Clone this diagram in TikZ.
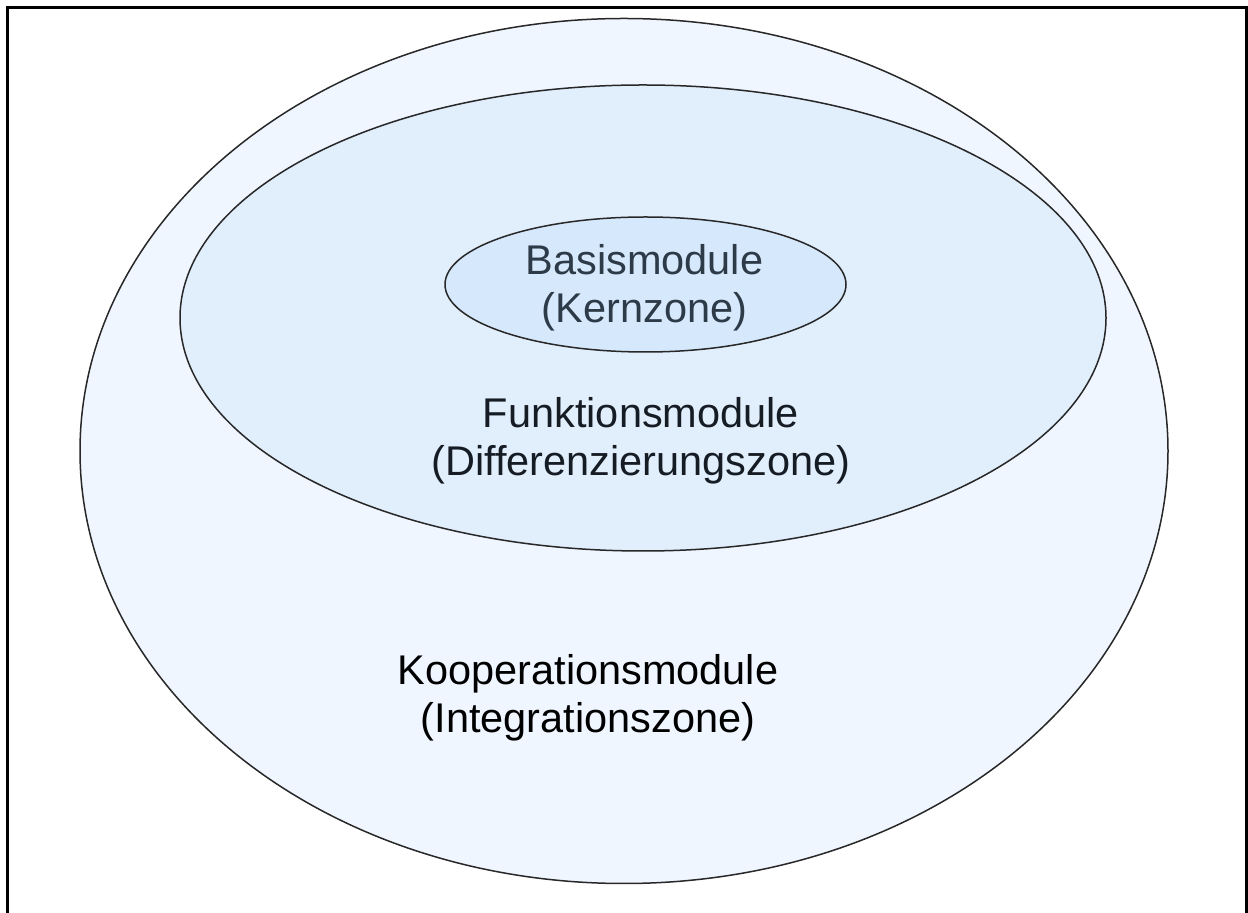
\documentclass[tikz,border=0pt]{standalone}
\usepackage{fontspec}
\setmainfont{Liberation Sans}
\usetikzlibrary{shapes.geometric}
\definecolor{zoneouter}{RGB}{240,246,255}
\definecolor{zonemid}{RGB}{225,238,252}
\definecolor{zoneinner}{RGB}{214,232,251}
\definecolor{edgegray}{RGB}{40,40,40}
\definecolor{textslate}{RGB}{45,58,72}
\definecolor{textdark}{RGB}{22,28,36}
\tikzset{
  zone/.style={ellipse, draw=edgegray, line width=0.75pt, inner sep=0pt},
  zonelabel/.style={align=center, inner sep=0pt,
    font=\fontsize{20.75}{24}\selectfont},
}
\begin{document}
\begin{tikzpicture}[x=0.5pt,y=-0.5pt]
  \useasboundingbox (0,0) rectangle (1248,913);
  \fill[white] (0,0) rectangle (1248,913);
  % frame, open at the bottom
  \coordinate (fbl) at (7,913);
  \coordinate (ftl) at (7,8);
  \coordinate (ftr) at (1246,8);
  \coordinate (fbr) at (1246,913);
  \draw[line width=1.5pt] (fbl) -- (ftl) -- (ftr) -- (fbr);
  % nested zones
  \node[zone, fill=zoneouter, minimum width=544pt, minimum height=432.5pt]
    (outer) at (624,451) {};
  \node[zone, fill=zonemid, minimum width=463pt, minimum height=233pt]
    (mid) at (643,318) {};
  \node[zone, fill=zoneinner, minimum width=200.5pt, minimum height=67.5pt]
    (inner) at (645.5,284.5) {};
  % labels
  \node[zonelabel, text=textslate] (basis) at (644.5,288)
    {Basismodule\\(Kernzone)};
  \node[zonelabel, text=textdark] (funktion) at (641,441)
    {Funktionsmodule\\(Differenzierungszone)};
  \node[zonelabel, text=black] (koop) at (588,698)
    {Kooperationsmodule\\(Integrationszone)};
\end{tikzpicture}
\end{document}
